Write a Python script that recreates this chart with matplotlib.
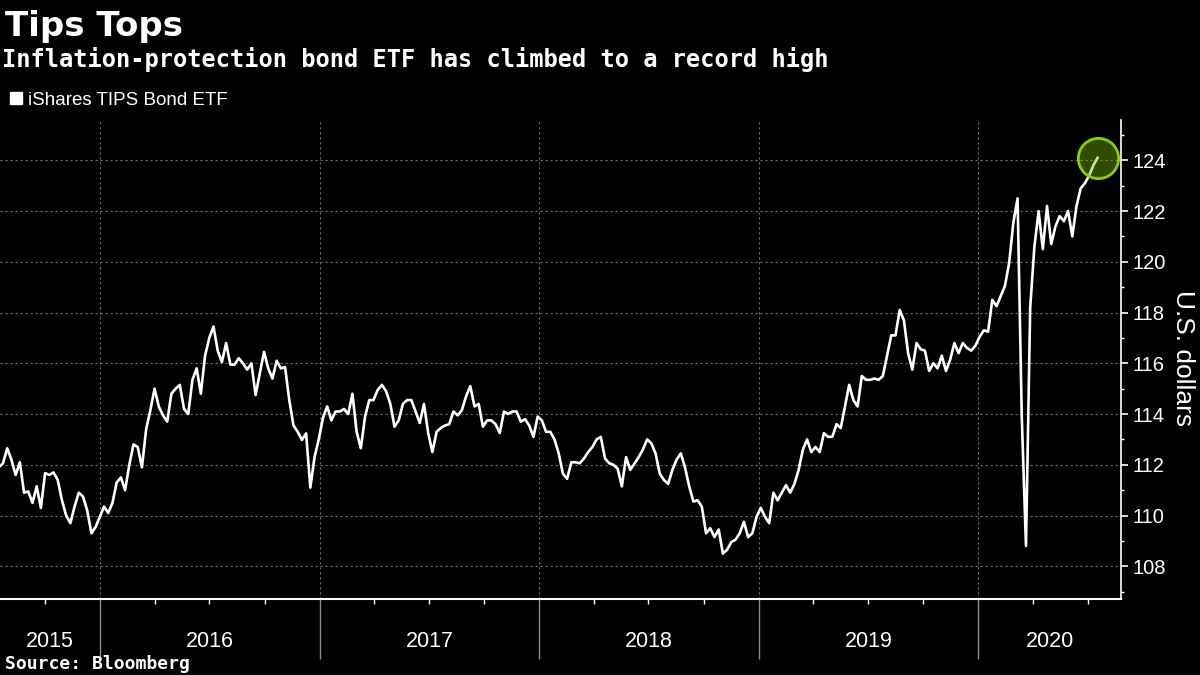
import pandas as pd
import matplotlib
matplotlib.use('Agg')
import matplotlib.pyplot as plt
import matplotlib.dates as mdates
import matplotlib.transforms as mtransforms
from matplotlib.lines import Line2D
from matplotlib.ticker import MultipleLocator

# weekly closes (Fridays)
start_date = '2015-07-17'
prices_2015_16 = [
    111.9, 112.06, 112.65, 112.2, 111.6, 112.1, 110.9, 110.95, 110.5, 111.15,
    110.3, 111.67, 111.6, 111.7, 111.4, 110.6, 110.0, 109.7, 110.35, 110.9,
    110.75, 110.2, 109.3, 109.55, 109.95, 110.35, 110.1, 110.5, 111.3, 111.5,
    111.0, 112.0, 112.8, 112.7, 111.9, 113.4, 114.15, 115.0, 114.3, 113.95,
    113.7, 114.8, 115.0, 115.15, 114.2, 114.0, 115.35, 115.8, 114.8, 116.3,
    117.0, 117.45, 116.5, 116.05, 116.8, 115.95, 115.95, 116.2, 116.0, 115.75,
    116.0, 114.75, 115.6, 116.45, 115.8, 115.4, 116.1, 115.8, 115.85, 114.55,
    113.55, 113.3,
]
prices_2016_17 = [
    112.98, 113.24, 111.1, 112.3, 113.0, 113.85, 114.3, 113.75, 114.1, 114.1,
    114.2, 114.0, 114.8, 113.3, 112.65, 113.9, 114.55, 114.55, 114.95, 115.15,
    114.9, 114.4, 113.5, 113.75, 114.4, 114.55, 114.55, 114.1, 113.65, 114.4,
    113.25, 112.5, 113.3, 113.45, 113.55, 113.6, 114.1, 113.95, 114.15, 114.7,
    115.1, 114.3, 114.4, 113.5, 113.75, 113.75, 113.6, 113.25, 114.1, 114.0,
    114.1, 114.1, 113.7, 113.8, 113.55, 113.1, 113.9, 113.75, 113.3, 113.3,
    113.0, 112.45, 111.65, 111.45, 112.1, 112.1,
]
prices_2018_19 = [
    112.06, 112.25, 112.5, 112.7, 113.0, 113.1, 112.25, 112.06, 112.0, 111.85,
    111.15, 112.3, 111.8, 112.05, 112.3, 112.6, 113.0, 112.85, 112.45, 111.65,
    111.4, 111.25, 111.8, 112.2, 112.45, 111.9, 111.15, 110.55, 110.6, 110.35,
    109.3, 109.5, 109.15, 109.45, 108.5, 108.65, 108.95, 109.05, 109.3, 109.75,
    109.15, 109.3, 109.95, 110.3, 109.95, 109.7, 110.9, 110.6, 110.9, 111.2,
    110.9, 111.25, 111.8, 112.6, 113.0, 112.5, 112.7, 112.5, 113.25, 113.1,
    113.1, 113.6, 113.45, 114.3, 115.15, 114.55, 114.3,
]
prices_2019_20 = [
    115.5, 115.35, 115.35, 115.4, 115.35, 115.5, 116.3, 117.1, 117.1, 118.1,
    117.7, 116.4, 115.75, 116.8, 116.55, 116.5, 115.7, 116.0, 115.8, 116.3,
    115.7, 116.15, 116.8, 116.4, 116.8, 116.6, 116.5, 116.7, 117.05, 117.3,
    117.25, 118.5, 118.25, 118.65, 119.05, 119.95, 121.55,
]
prices_2020 = [
    122.5, 113.9, 108.8, 118.2, 120.6, 122.0, 120.5, 122.2, 120.7, 121.4,
    121.8, 121.6, 122.0, 121.0, 122.2, 122.9, 123.1, 123.4, 123.8, 124.1,
]
years = [2015, 2016, 2017, 2018, 2019, 2020]
y_ticks = [108, 110, 112, 114, 116, 118, 120, 122, 124]
x_range = ['2015-07-19', '2020-08-25']
y_range = [106.71, 125.59]

prices = prices_2015_16 + prices_2016_17 + prices_2018_19 + prices_2019_20 + prices_2020
dates = pd.date_range(start_date, periods=len(prices), freq='7D')

plt.rcParams['font.family'] = ['Liberation Sans', 'DejaVu Sans']
grid_col = '#6e6e6e'

fig = plt.figure(figsize=(12, 6.75), dpi=100, facecolor='black')
ax = fig.add_axes([0.0, 1 - 599 / 675, 1121 / 1200, 479 / 675])
ax.set_facecolor('black')

ax.plot(dates, prices, color='white', lw=1.9, solid_joinstyle='round', zorder=3)
ax.plot(dates[-1:], prices[-1:], 'o', ms=29, mfc=(0.49, 0.75, 0.0, 0.4),
        mec='#8ccf00', mew=2, zorder=4)

x0, x1 = pd.Timestamp(x_range[0]), pd.Timestamp(x_range[1])
ax.set_xlim(x0, x1)
ax.set_ylim(*y_range)

for s in ['top', 'left']:
    ax.spines[s].set_visible(False)
ax.spines['bottom'].set_color('white')
ax.spines['bottom'].set_linewidth(1.5)
ax.spines['right'].set_color('white')
ax.spines['right'].set_linewidth(1.2)

# y axis on the right
ax.yaxis.tick_right()
ax.set_yticks(y_ticks)
ax.yaxis.set_minor_locator(MultipleLocator(1))
ax.tick_params(axis='y', which='major', colors='white', length=5, width=1.2,
               pad=3.5, labelsize=14.5)
ax.tick_params(axis='y', which='minor', colors='white', length=2.5, width=1)

# x axis: long grey ticks at year starts, short quarter ticks
ax.xaxis.set_major_locator(mdates.YearLocator())
ax.xaxis.set_minor_locator(mdates.MonthLocator(bymonth=[4, 7, 10]))
ax.tick_params(axis='x', which='major', color='#8a8a8a', length=43, width=1,
               labelbottom=False)
ax.tick_params(axis='x', which='minor', color='white', length=3.5, width=1)

ax.grid(axis='both', which='major', color=grid_col, lw=0.8, ls=(0, (2, 2.5)))
ax.set_axisbelow(True)

# year labels centred on the visible part of each year
trans = mtransforms.blended_transform_factory(ax.transData, ax.transAxes)
for yr in years:
    lo = max(pd.Timestamp(f'{yr}-01-01'), x0)
    hi = min(pd.Timestamp(f'{yr + 1}-01-01'), x1)
    mid = lo + (hi - lo) / 2
    ax.text(mid, -0.0996, str(yr), transform=trans, ha='center', va='baseline',
            color='white', fontsize=15.5)

fig.text(1183 / 1200, 1 - 358 / 675, 'U.S. dollars', rotation=270, ha='center',
         va='center', color='white', fontsize=19)

fig.text(0.004, 1 - 35.7 / 675, 'Tips Tops', color='white', fontsize=24.5,
         fontweight='bold', family='DejaVu Sans', va='baseline')
fig.text(0.002, 1 - 67 / 675, 'Inflation-protection bond ETF has climbed to a record high',
         color='white', fontsize=17, fontweight='bold', family='DejaVu Sans Mono',
         va='baseline')
fig.text(0.004, 1 - 669 / 675, 'Source: Bloomberg', color='white', fontsize=13,
         fontweight='bold', family='DejaVu Sans Mono', va='baseline')

handle = Line2D([], [], marker='s', ls='', color='white', ms=8)
leg = ax.legend([handle], ['iShares TIPS Bond ETF'], loc='center left',
                bbox_to_anchor=(8 / 1200, 1 - 100 / 675), bbox_transform=fig.transFigure,
                frameon=False, handlelength=0.8, handletextpad=0.25, borderpad=0,
                borderaxespad=0, prop={'family': 'Liberation Sans', 'size': 13.5})
for t in leg.get_texts():
    t.set_color('white')

fig.savefig('out.png', dpi=100, facecolor='black')
